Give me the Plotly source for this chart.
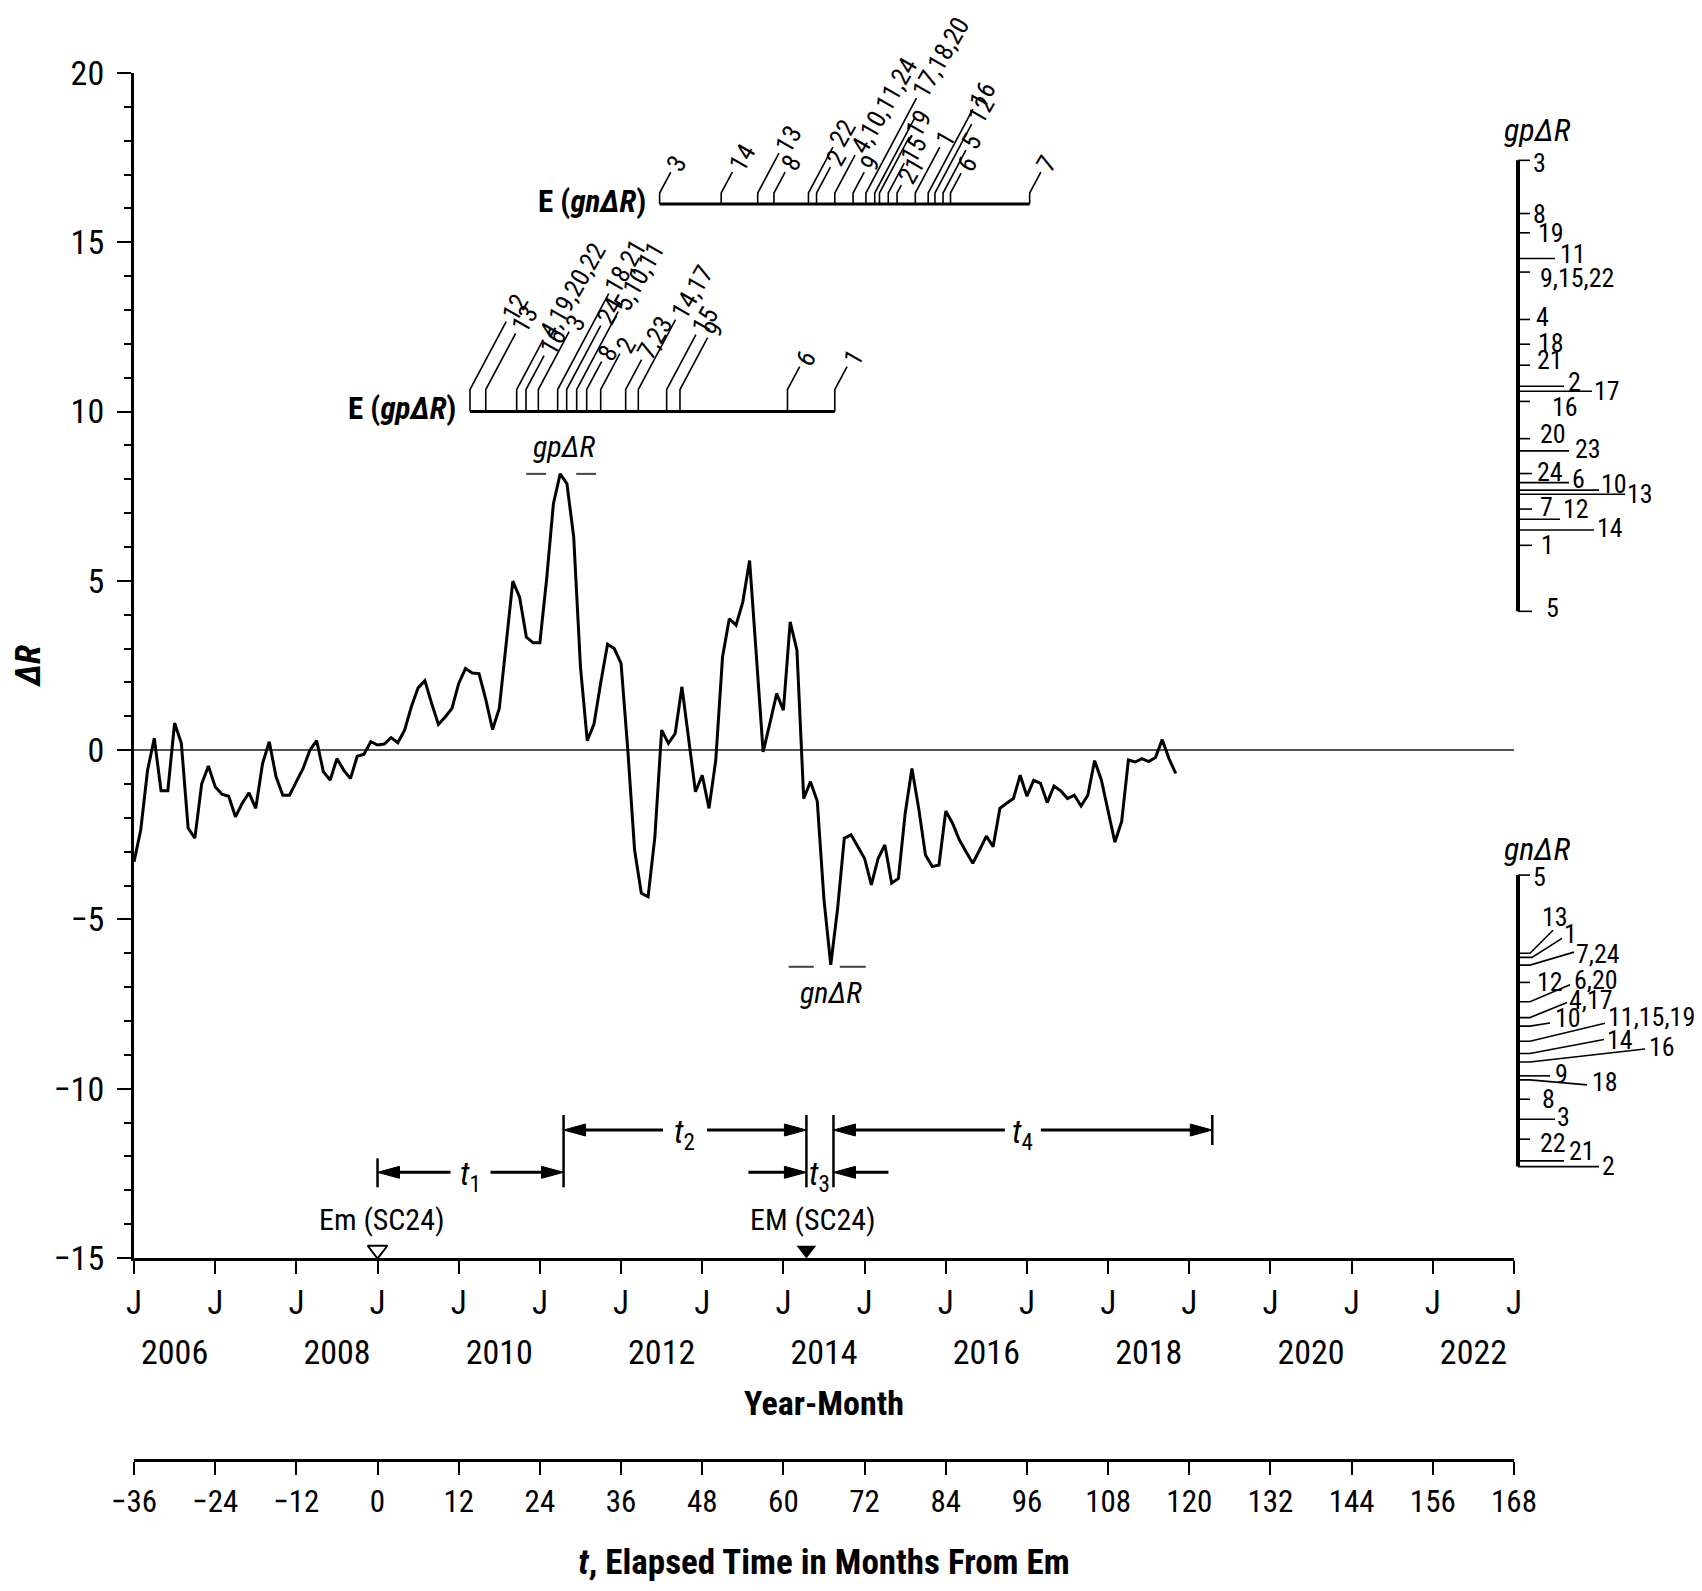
import math
import plotly.graph_objects as go

FONT = "Roboto Condensed, Liberation Sans, Arial, sans-serif"

# ---------------- DATA ----------------
# monthly Delta R, starting at t = -36 (Jan 2006)
dR = [
    -3.3, -2.35, -0.6, 0.35, -1.2, -1.2, 0.8, 0.2, -2.3, -2.6,
    -1.0, -0.47, -1.08, -1.3, -1.36, -1.97, -1.57, -1.26, -1.72, -0.4,
    0.25, -0.79, -1.33, -1.33, -0.93, -0.54, 0.0, 0.28, -0.64, -0.88,
    -0.25, -0.59, -0.84, -0.18, -0.12, 0.25, 0.15, 0.18, 0.37, 0.22,
    0.59, 1.28, 1.84, 2.05, 1.38, 0.76, 0.98, 1.23, 1.97, 2.41,
    2.28, 2.26, 1.5, 0.61, 1.23, 3.05, 4.99, 4.52, 3.34, 3.17,
    3.17, 5.06, 7.28, 8.16, 7.87, 6.29, 2.46, 0.28, 0.77, 2.0,
    3.13, 3.0, 2.56, 0.0, -2.95, -4.23, -4.33, -2.56, 0.59, 0.2,
    0.49, 1.87, 0.3, -1.23, -0.74, -1.72, -0.3, 2.75, 3.88, 3.69,
    4.38, 5.6, 2.8, -0.05, 0.79, 1.67, 1.18, 3.79, 2.95, -1.43,
    -0.93, -1.5, -4.42, -6.34, -4.7, -2.6, -2.5, -2.85, -3.2, -3.98,
    -3.2, -2.8, -3.93, -3.79, -1.87, -0.54, -1.72, -3.1, -3.44, -3.39,
    -1.8, -2.16, -2.65, -3.0, -3.34, -2.95, -2.54, -2.85, -1.72, -1.57,
    -1.43, -0.74, -1.36, -0.89, -0.98, -1.55, -1.06, -1.2, -1.43, -1.33,
    -1.65, -1.33, -0.31, -0.88, -1.77, -2.72, -2.11, -0.29, -0.35, -0.25,
    -0.34, -0.22, 0.31, -0.25, -0.69,
]
t_month = [-36 + i for i in range(len(dR))]

j_tick_t = list(range(-36, 169, 12))
j_tick_text = ["J"] * len(j_tick_t)
year_labels = ["2006", "2008", "2010", "2012", "2014", "2016", "2018", "2020", "2022"]
year_t = [-30, -6, 18, 42, 66, 90, 114, 138, 162]
t_ticks = list(range(-36, 169, 12))
y_ticks = list(range(-15, 21, 5))

# epochs of gn-Delta-R per cycle (months from Em)
egn_t = [41.7, 50.8, 56.2, 58.6, 63.7, 64.9, 67.6, 70.3, 72.2, 73.5,
         74.2, 75.5, 76.8, 79.5, 81.4, 82.4, 83.6, 84.7, 96.4]
egn_lab = ["3", "14", "13", "8", "22", "2", "4,10,11,24", "9", "17,18,20", "",
           "19", "15", "21", "1", "16", "12", "5", "6", "7"]
# epochs of gp-Delta-R per cycle (months from Em)
egp_t = [13.67, 16.0, 20.57, 21.95, 23.77, 26.63, 27.96, 29.44, 30.92, 32.99,
         36.68, 38.55, 42.74, 44.71, 60.6, 67.6]
egp_lab = ["12", "13", "4,19,20,22", "16", "3", "18,21", "24", "5,10,11", "8", "2",
           "7,23", "14,17", "15", "9", "6", "1"]
E_gn_level = 16.13
E_gp_level = 10.0

# gp-Delta-R values of cycles (right upper scale)
gp_lab = ["3", "8", "19", "11", "9,15,22", "4", "18", "21", "2", "17", "16",
          "20", "23", "24", "6", "10", "13", "7", "12", "14", "1", "5"]
gp_val = [17.42, 15.85, 15.28, 14.52, 14.12, 12.72, 11.99, 11.37, 10.75, 10.6, 10.3,
          9.2, 8.84, 8.17, 7.9, 7.68, 7.56, 7.12, 6.82, 6.5, 6.05, 4.1]
# gn-Delta-R values of cycles (right lower scale)
gn_lab = ["5", "13", "1", "7,24", "12", "6,20", "4,17", "10", "11,15,19", "14",
          "16", "9", "18", "8", "3", "22", "21", "2"]
gn_val = [-3.69, -6.0, -6.12, -6.35, -6.86, -7.43, -7.9, -8.15, -8.6, -8.96,
          -9.21, -9.62, -9.74, -10.31, -10.9, -11.49, -12.13, -12.3]

# interval epochs (months from Em)
t_Em, t_gp, t_EM, t_gn, t_end4 = 0.0, 27.5, 63.4, 67.4, 123.4

# ---------------- LAYOUT GEOMETRY (page pixels) ----------------
OFF = 8                       # default page margin around the figure
W, H = 1702 - OFF, 1591 - 2 * OFF
X_LEFT, X_RIGHT = 134, 1514   # plot area in page pixels
Y_TOP, Y_BOT = 73, 1258
ML, MT, MB = X_LEFT - OFF, Y_TOP - OFF, 2
PW = 1558
MR = W - ML - PW
PH = H - MT - MB
T_MIN, T_MAX = -36, 168
V_MIN, V_MAX = -15, 20
PXM = (X_RIGHT - X_LEFT) / (T_MAX - T_MIN)   # px per month
PXU = (Y_BOT - Y_TOP) / (V_MAX - V_MIN)      # px per unit
x_dom = [0, (X_RIGHT - X_LEFT) / PW]


def pxp(X):
    return (X - OFF - ML) / PW


def pyp(Y):
    return (H - MB - (Y - OFF)) / PH


y_dom = [pyp(Y_BOT), 1]

shapes = []
annots = []
BLK = "black"
SMALL = 26


def path(pts, w=1.6, xref="x", yref="y", fill=None):
    d = "M " + " L ".join(f"{a},{b}" for a, b in pts)
    if fill:
        d += " Z"
    s = dict(type="path", path=d, xref=xref, yref=yref,
             line=dict(color=BLK, width=w))
    if fill:
        s["fillcolor"] = fill
    shapes.append(s)


def text(x, y, s, size=SMALL, xanchor="center", yanchor="middle", xref="x", yref="y",
         xshift=0, yshift=0, angle=0):
    annots.append(dict(x=x, y=y, text=s, xref=xref, yref=yref, showarrow=False,
                       xanchor=xanchor, yanchor=yanchor, xshift=xshift, yshift=yshift,
                       textangle=angle, font=dict(family=FONT, size=size, color=BLK)))


# ---------- E timelines ----------
ANG = math.radians(62)
egn_h = [32, 32, 51, 32, 57, 37, 49, 32, 106, 86, 67, 41, 19, 57, 95, 80, 54, 31, 32]
egp_h = [90, 78, 72, 56, 80, 118, 86, 100, 50, 58, 52, 92, 77, 74, 45, 45]


def draw_E(ts, labs, hs, level, stub, title):
    path([(min(ts), level), (max(ts), level)], w=3)
    for t, lab, h in zip(ts, labs, hs):
        vs = level + min(stub, h) / PXU
        pts = [(t, level), (t, vs)]
        te, ve = t, vs
        if h > stub:
            te = t + (h - stub) / math.tan(ANG) / PXM
            ve = level + h / PXU
            pts.append((te, ve))
        path(pts, w=1.6)
        if lab:
            text(te, ve, lab, xanchor="left", yanchor="bottom",
                 xshift=-13, yshift=-7, angle=-60)
    text(min(ts), level, title, size=31, xanchor="right", yanchor="middle",
         xshift=-12, yshift=3)


draw_E(egn_t, egn_lab, egn_h, E_gn_level, 11, "<b>E (<i>gn\u0394R</i>)</b>")
draw_E(egp_t, egp_lab, egp_h, E_gp_level, 22, "<b>E (<i>gp\u0394R</i>)</b>")

# ---------- right-hand scales ----------
X_SC = 1518
# (tick length px, label dx px, label dy px up)
gp_geo = [(12, 13, -3), (12, 13, 0), (12, 18, 0), (37, 40, 5), (12, 20, -6),
          (12, 16, 2), (12, 18, 1), (12, 17, 5), (46, 48, 4), (74, 74, 0),
          (12, 32, -6), (12, 20, 5), (51, 55, 2), (14, 17, 2), (51, 52, 4),
          (81, 81, 6), (107, 107, 0), (14, 20, 2), (42, 43, 10), (76, 77, 2),
          (14, 21, 0), (14, 26, 3)]
path([(pxp(X_SC), max(gp_val)), (pxp(X_SC), min(gp_val))], w=4, xref="paper")
for lab, v, (L, ldx, ldy) in zip(gp_lab, gp_val, gp_geo):
    path([(pxp(X_SC), v), (pxp(X_SC + L), v)], w=1.6, xref="paper")
    text(pxp(X_SC + ldx), v, lab, xanchor="left", xref="paper", yshift=ldy)
text(pxp(1537), max(gp_val), "<i>gp\u0394R</i>", size=32, xref="paper", yshift=30)

# (stub px, end dx px, end dy px up, label dx px, label dy px up)
gn_geo = [(12, 12, 0, 13, -2), (12, 35, 23, 22, 36), (14, 44, 19, 44, 23),
          (12, 56, 13, 56, 11), (12, 12, 0, 17, 0), (12, 52, 17, 54, 22),
          (12, 49, 15, 49, 18), (12, 32, 3, 35, 8), (12, 87, 18, 88, 24),
          (12, 86, 14, 87, 14), (12, 127, 13, 129, 15), (12, 32, 0, 35, 2),
          (12, 69, -5, 72, -2), (12, 12, 0, 22, 0), (37, 37, 0, 37, 2),
          (12, 12, 0, 20, -4), (46, 46, 0, 49, 10), (81, 81, 0, 82, 1)]
path([(pxp(X_SC), max(gn_val)), (pxp(X_SC), min(gn_val))], w=4, xref="paper")
for lab, v, (st, edx, edy, ldx, ldy) in zip(gn_lab, gn_val, gn_geo):
    pts = [(pxp(X_SC), v), (pxp(X_SC + st), v)]
    if edx != st or edy != 0:
        pts.append((pxp(X_SC + edx), v + edy / PXU))
    path(pts, w=1.6, xref="paper")
    text(pxp(X_SC + ldx), v, lab, xanchor="left", xref="paper", yshift=ldy)
text(pxp(1537), max(gn_val), "<i>gn\u0394R</i>", size=32, xref="paper", yshift=26)

# ---------- peak / trough labels ----------
i_pk = max(range(len(dR)), key=lambda i: dR[i])
i_tr = min(range(len(dR)), key=lambda i: dR[i])
tp, vp = t_month[i_pk], dR[i_pk]
tt, vt = t_month[i_tr], dR[i_tr]
text(tp + 4 / PXM, vp, "<i>gp\u0394R</i>", size=30, yshift=27)
for a, b in [(-34, -14), (16, 36)]:
    shapes.append(dict(type="line", x0=tp + a / PXM, x1=tp + b / PXM, y0=vp, y1=vp,
                       xref="x", yref="y", line=dict(color="#444", width=2)))
text(tt, vt, "<i>gn\u0394R</i>", size=30, yshift=-28)
for a, b in [(-42, -17), (9, 35)]:
    shapes.append(dict(type="line", x0=tt + a / PXM, x1=tt + b / PXM, y0=vt - 2 / PXU,
                       y1=vt - 2 / PXU, xref="x", yref="y", line=dict(color="#444", width=2)))

# ---------- interval arrows ----------
V_UP, V_LO = -11.22, -12.47
HEAD_L, HEAD_W = 22, 6


def arrow(t_from, t_to, v):
    s = 1 if t_to > t_from else -1
    tb = t_to - s * HEAD_L / PXM
    path([(t_from, v), (tb, v)], w=3)
    path([(t_to, v), (tb, v + HEAD_W / PXU), (tb, v - HEAD_W / PXU)], w=1, fill=BLK)


def bar(t, v0, v1):
    path([(t, v0), (t, v1)], w=2.5)


top_bar = V_UP + 15 / PXU
bar(t_Em, V_LO + 14 / PXU, V_LO - 15 / PXU)
for tb_ in (t_gp, t_EM, t_gn):
    bar(tb_, top_bar, V_LO - 15 / PXU)
bar(t_end4, top_bar, V_UP - 15 / PXU)

for (a, b, v, lab, gap) in [(t_Em, t_gp, V_LO, "1", 20), (t_gp, t_EM, V_UP, "2", 22),
                            (t_gn, t_end4, V_UP, "4", 18)]:
    mid = (a + b) / 2
    arrow(mid - gap / PXM, a, v)
    arrow(mid + gap / PXM, b, v)
    text(mid, v, f"<i>t</i><sub>{lab}</sub>", size=33, yshift=-4)
arrow(t_EM - 58 / PXM, t_EM, V_LO)
arrow(t_gn + 55 / PXM, t_gn, V_LO)
text((t_EM + t_gn) / 2, V_LO, "<i>t</i><sub>3</sub>", size=33, yshift=-4)

# ---------- Em / EM markers ----------
text(t_Em + 0.7, V_MIN, "Em (SC24)", size=30, yshift=39)
text(t_EM + 1.0, V_MIN, "EM (SC24)", size=30, yshift=39)

# ---------------- FIGURE ----------------
fig = go.Figure()
fig.add_trace(go.Scatter(x=t_month, y=dR, mode="lines",
                         line=dict(color=BLK, width=3), hoverinfo="skip"))
fig.add_trace(go.Scatter(x=[t_Em], y=[V_MIN + 8 / PXU], mode="markers", cliponaxis=False,
                         marker=dict(symbol="triangle-down-open", size=17, color=BLK,
                                     line=dict(width=2, color=BLK))))
fig.add_trace(go.Scatter(x=[t_EM], y=[V_MIN + 8 / PXU], mode="markers", cliponaxis=False,
                         marker=dict(symbol="triangle-down", size=17, color=BLK)))
for ax in ("x2", "x3"):
    fig.add_trace(go.Scatter(x=[T_MIN], y=[None], xaxis=ax, yaxis="y",
                             mode="markers", hoverinfo="skip"))

axfont = dict(family=FONT, color=BLK)
fig.update_layout(
    width=W, height=H, showlegend=False,
    margin=dict(l=ML, r=MR, t=MT, b=MB),
    paper_bgcolor="white", plot_bgcolor="white",
    font=dict(family=FONT, color=BLK),
    xaxis=dict(domain=x_dom, range=[T_MIN, T_MAX], tickvals=j_tick_t, ticktext=j_tick_text,
               ticks="outside", ticklen=13, tickwidth=2, tickcolor=BLK,
               showline=True, linewidth=3, linecolor=BLK, showgrid=False, zeroline=False,
               tickfont=dict(size=33, **axfont), ticklabelstandoff=0, automargin=False),
    xaxis3=dict(domain=x_dom, range=[T_MIN, T_MAX], overlaying="x", anchor="free",
                position=y_dom[0], side="bottom", tickvals=year_t, ticktext=year_labels,
                ticks="", showline=False, showgrid=False, zeroline=False,
                tickfont=dict(size=34, **axfont), ticklabelstandoff=71, automargin=False,
                title=dict(text="<b>Year-Month</b>", font=dict(size=34, **axfont), standoff=20)),
    xaxis2=dict(domain=x_dom, range=[T_MIN, T_MAX], overlaying="x", anchor="free",
                position=pyp(1460), side="bottom", tickvals=t_ticks,
                ticks="outside", ticklen=13, tickwidth=2, tickcolor=BLK,
                showline=True, linewidth=3, linecolor=BLK, showgrid=False, zeroline=False,
                tickfont=dict(size=31, **axfont), ticklabelstandoff=0, automargin=False,
                title=dict(text="<b><i>t</i>, Elapsed Time in Months From Em</b>",
                           font=dict(size=35, **axfont), standoff=38)),
    yaxis=dict(domain=y_dom, range=[V_MIN, V_MAX], tickvals=y_ticks,
               ticks="outside", ticklen=14, tickwidth=2, tickcolor=BLK,
               minor=dict(dtick=1, ticks="outside", ticklen=7, tickwidth=2, tickcolor=BLK),
               showline=True, linewidth=3, linecolor=BLK, showgrid=False,
               zeroline=True, zerolinecolor="#555", zerolinewidth=2,
               tickfont=dict(size=34, **axfont), ticklabelstandoff=6, automargin=False,
               title=dict(text="<b><i>\u0394R</i></b>", font=dict(size=35, **axfont), standoff=3)),
    shapes=shapes, annotations=annots,
)

fig.write_html("out.html")
